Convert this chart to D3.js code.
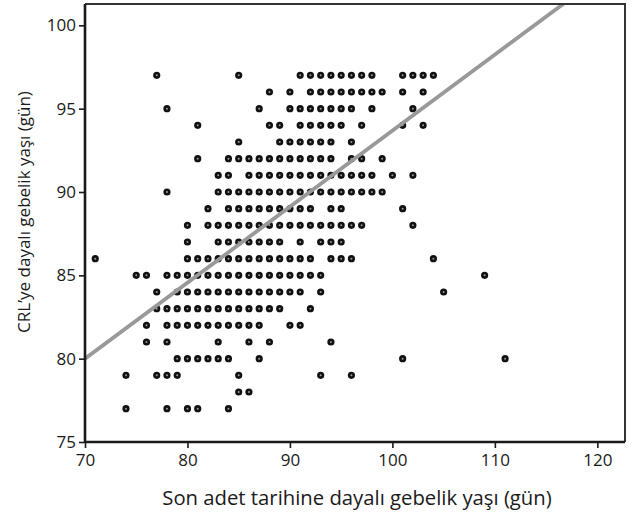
<!DOCTYPE html>
<html>
<head>
<meta charset="utf-8">
<script src="https://cdn.jsdelivr.net/npm/d3@7"></script>
<style>
  html, body { margin: 0; padding: 0; background: #fff; }
  svg { display: block; font-family: "Open Sans", "Noto Sans", sans-serif; }
</style>
</head>
<body>
<svg id="chart" width="635" height="519"></svg>
<script>
// CRL'ye dayalı gebelik yaşı (satırlar, gün)
const crlDays = [97, 96, 95, 94, 93, 92, 91, 90, 89, 88, 87, 86, 85, 84, 83, 82, 81, 80, 79, 78, 77];

// her satırdaki son adet tarihine dayalı gebelik yaşı değerleri (gün)
const lmpDays = [
    [77, 85, 91, 92, 93, 94, 95, 96, 97, 98, 101, 102, 103, 104],
    [88, 90, 92, 93, 94, 95, 96, 97, 98, 99, 101, 103],
    [78, 87, 90, 91, 92, 93, 94, 95, 96, 98, 102],
    [81, 88, 89, 91, 92, 93, 94, 95, 97, 101, 103],
    [85, 89, 90, 91, 92, 93, 94, 96],
    [81, 84, 85, 86, 87, 88, 89, 90, 91, 92, 93, 94, 96, 97, 99],
    [83, 84, 86, 87, 88, 89, 90, 91, 92, 93, 94, 95, 96, 97, 98, 100, 102],
    [78, 83, 84, 85, 86, 87, 88, 89, 90, 91, 92, 93, 94, 95, 96, 97, 98, 99],
    [82, 84, 85, 86, 87, 88, 89, 90, 91, 92, 94, 95, 101],
    [80, 82, 83, 84, 85, 86, 87, 88, 89, 90, 91, 92, 93, 94, 95, 96, 97, 102],
    [80, 83, 84, 85, 86, 87, 88, 89, 91, 93, 94, 95],
    [71, 80, 81, 82, 83, 84, 85, 86, 87, 88, 89, 90, 91, 92, 94, 95, 96, 104],
    [75, 76, 78, 79, 80, 81, 82, 83, 84, 85, 86, 87, 88, 89, 90, 91, 92, 93, 109],
    [77, 79, 80, 81, 82, 83, 84, 85, 86, 87, 88, 89, 90, 91, 93, 105],
    [77, 78, 79, 80, 81, 82, 83, 84, 85, 86, 87, 88, 89, 92],
    [76, 78, 79, 80, 81, 82, 83, 84, 85, 86, 87, 90, 91],
    [76, 78, 83, 86, 88, 94],
    [79, 80, 81, 82, 83, 84, 87, 101, 111],
    [74, 77, 78, 79, 85, 93, 96],
    [85, 86],
    [74, 78, 80, 81, 84]
];

// regresyon doğrusu (x=70'teki değer, eğim)
const fitIntercept = 80.0;
const fitSlope = 0.456;
const fitRange = [70, 125];

const xTicks = [70, 80, 90, 100, 110, 120];
const yTicks = [75, 80, 85, 90, 95, 100];
const xTitle = "Son adet tarihine dayalı gebelik yaşı (gün)";
const yTitle = "CRL’ye dayalı gebelik yaşı (gün)";

const svg = d3.select("#chart");
const margin = { left: 85, top: 4, right: 10, bottom: 77 };
const width = 635 - margin.left - margin.right;
const height = 519 - margin.top - margin.bottom;

const x = d3.scaleLinear().domain([70, 122.7]).range([0, width]);
const y = d3.scaleLinear().domain([75, 101.28]).range([height, 0]);

const g = svg.append("g").attr("transform", `translate(${margin.left},${margin.top})`);

g.append("clipPath").attr("id", "clip")
    .append("rect").attr("width", width).attr("height", height);

// noktalar
const points = [];
crlDays.forEach((cy, i) => lmpDays[i].forEach(cx => points.push({ x: cx, y: cy })));

g.append("g").selectAll("circle")
    .data(points)
    .join("circle")
    .attr("cx", d => x(d.x))
    .attr("cy", d => y(d.y))
    .attr("r", 2.3)
    .style("fill", "#9a9a9a")
    .style("stroke", "#111")
    .style("stroke-width", 2.6);

// regresyon doğrusu
g.append("line")
    .attr("clip-path", "url(#clip)")
    .attr("x1", x(fitRange[0]))
    .attr("y1", y(fitIntercept))
    .attr("x2", x(fitRange[1]))
    .attr("y2", y(fitIntercept + fitSlope * (fitRange[1] - fitRange[0])))
    .style("stroke", "#999")
    .style("stroke-width", 3.8);

// çerçeve (üst ve sağ)
g.append("path")
    .attr("d", `M0,0H${width}V${height}`)
    .style("fill", "none")
    .style("stroke", "#333")
    .style("stroke-width", 2);

// eksenler
const xAxis = g.append("g")
    .attr("transform", `translate(0,${height})`)
    .call(d3.axisBottom(x).tickValues(xTicks).tickSize(6).tickPadding(6));
const yAxis = g.append("g")
    .call(d3.axisLeft(y).tickValues(yTicks).tickSize(6).tickPadding(3));

[xAxis, yAxis].forEach(ax => {
    ax.select(".domain").style("stroke", "#1a1a1a").style("stroke-width", 2.6);
    ax.selectAll(".tick line").style("stroke", "#1a1a1a").style("stroke-width", 1.6);
    ax.selectAll(".tick text")
        .style("font-family", "'Open Sans', sans-serif")
        .style("font-size", "17px")
        .style("fill", "#1a1a1a");
});
xAxis.select(".domain").attr("d", `M0,0H${width}`);
yAxis.select(".domain").attr("d", `M0,0V${height}`);

// başlıklar
svg.append("text")
    .attr("x", 357)
    .attr("y", 505)
    .attr("text-anchor", "middle")
    .style("font-size", "20.3px")
    .style("fill", "#1a1a1a")
    .text(xTitle);

svg.append("text")
    .attr("transform", `translate(30,212) rotate(-90)`)
    .attr("text-anchor", "middle")
    .style("font-size", "17px")
    .style("fill", "#1a1a1a")
    .text(yTitle);
</script>
</body>
</html>
